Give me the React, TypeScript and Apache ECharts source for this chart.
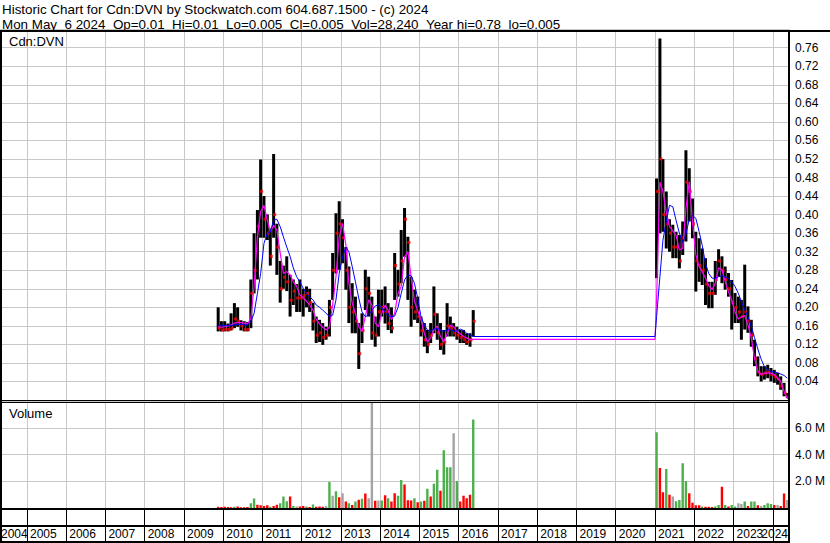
import React, { useEffect, useRef } from "react";
import * as echarts from "echarts";

const FONT = "'Liberation Sans', Arial, Helvetica, sans-serif";

// ---------- data (monthly) ----------
const seg1Start = [2009, 11];
const seg2Start = [2021, 1];

const high1 = [
  0.20, 0.17,
  0.17, 0.165, 0.187, 0.209, 0.20, 0.172, 0.17, 0.168, 0.26, 0.36, 0.41, 0.519,
  0.44, 0.40, 0.37, 0.531, 0.38, 0.30, 0.29, 0.31, 0.27, 0.26, 0.25, 0.26,
  0.24, 0.245, 0.24, 0.21, 0.18, 0.173, 0.166, 0.158, 0.216, 0.317, 0.403, 0.429,
  0.39, 0.33, 0.288, 0.252, 0.223, 0.166, 0.187, 0.281, 0.266, 0.223, 0.18, 0.238,
  0.238, 0.245, 0.209, 0.20, 0.317, 0.281, 0.367, 0.414, 0.352, 0.266, 0.238, 0.223,
  0.18, 0.166, 0.151, 0.166, 0.245, 0.187, 0.166, 0.151, 0.209, 0.18, 0.166, 0.158,
  0.151, 0.151, 0.144, 0.144, 0.194,
];
const low1 = [
  0.148, 0.148,
  0.148, 0.148, 0.15, 0.155, 0.158, 0.15, 0.148, 0.148, 0.155, 0.23, 0.26, 0.35,
  0.35, 0.345, 0.29, 0.35, 0.27, 0.21, 0.24, 0.235, 0.18, 0.205, 0.19, 0.19,
  0.18, 0.20, 0.19, 0.15, 0.123, 0.125, 0.119, 0.13, 0.137, 0.216, 0.273, 0.281,
  0.295, 0.238, 0.166, 0.144, 0.144, 0.067, 0.123, 0.194, 0.18, 0.13, 0.115, 0.137,
  0.18, 0.165, 0.151, 0.144, 0.216, 0.223, 0.252, 0.309, 0.216, 0.158, 0.173, 0.166,
  0.137, 0.115, 0.101, 0.123, 0.144, 0.13, 0.108, 0.098, 0.137, 0.137, 0.137, 0.13,
  0.123, 0.123, 0.119, 0.115, 0.137,
];
const close1 = [
  0.155, 0.151,
  0.152, 0.152, 0.155, 0.175, 0.17, 0.16, 0.152, 0.152, 0.23, 0.28, 0.375, 0.45,
  0.39, 0.36, 0.31, 0.40, 0.33, 0.24, 0.265, 0.255, 0.215, 0.235, 0.22, 0.22,
  0.225, 0.23, 0.21, 0.17, 0.14, 0.145, 0.135, 0.14, 0.20, 0.28, 0.36, 0.38,
  0.35, 0.28, 0.20, 0.19, 0.17, 0.10, 0.15, 0.24, 0.23, 0.145, 0.14, 0.19,
  0.20, 0.19, 0.165, 0.155, 0.29, 0.25, 0.30, 0.39, 0.34, 0.20, 0.19, 0.18,
  0.15, 0.13, 0.12, 0.14, 0.185, 0.145, 0.12, 0.125, 0.16, 0.155, 0.145, 0.14,
  0.135, 0.13, 0.125, 0.13, 0.17,
];
const maShort1 = [
  0.158, 0.157,
  0.158, 0.16, 0.162, 0.166, 0.167, 0.167, 0.166, 0.164, 0.176, 0.245, 0.352, 0.406,
  0.42, 0.388, 0.363, 0.377, 0.367, 0.317, 0.273, 0.277, 0.27, 0.255, 0.245, 0.227,
  0.22, 0.213, 0.205, 0.194, 0.174, 0.164, 0.157, 0.151, 0.157, 0.205, 0.266, 0.352,
  0.381, 0.334, 0.252, 0.209, 0.187, 0.158, 0.148, 0.18, 0.216, 0.205, 0.166, 0.158,
  0.187, 0.205, 0.194, 0.173, 0.187, 0.23, 0.245, 0.309, 0.32, 0.266, 0.213, 0.193,
  0.173, 0.144, 0.125, 0.134, 0.151, 0.16, 0.137, 0.126, 0.143, 0.161, 0.158, 0.148,
  0.143, 0.137, 0.134, 0.13, 0.131,
];
const maLong1 = [
  0.162, 0.161,
  0.161, 0.161, 0.161, 0.162, 0.163, 0.163, 0.162, 0.162, 0.169, 0.187, 0.23, 0.273,
  0.338, 0.36, 0.363, 0.388, 0.39, 0.374, 0.352, 0.33, 0.31, 0.285, 0.266, 0.255,
  0.241, 0.23, 0.223, 0.216, 0.205, 0.20, 0.194, 0.187, 0.18, 0.183, 0.216, 0.273,
  0.309, 0.33, 0.32, 0.288, 0.255, 0.22, 0.19, 0.18, 0.183, 0.194, 0.203, 0.205,
  0.20, 0.19, 0.182, 0.179, 0.181, 0.20, 0.23, 0.259, 0.27, 0.268, 0.252, 0.22,
  0.18, 0.162, 0.151, 0.149, 0.153, 0.154, 0.151, 0.148, 0.151, 0.153, 0.148, 0.149,
  0.153, 0.15, 0.144, 0.14, 0.137,
];
const volume1 = [
  0.1, 0.08,
  0.1, 0.08, 0.06, 0.1, 0.12, 0.06, 0.05, 0.08, 0.36, 0.72, 0.25, 0.2,
  0.15, 0.2, 0.1, 0.15, 0.25, 0.36, 0.87, 0.5, 0.87, 0.15, 0.12, 0.12,
  0.15, 0.12, 0.08, 0.26, 0.1, 0.12, 0.1, 0.15, 1.95, 0.92, 1.26, 0.8,
  1.1, 0.49, 0.36, 0.23, 0.49, 0.62, 0.69, 1.08, 0.74, 7.87, 0.54, 0.56,
  0.56, 0.95, 0.74, 0.49, 1.1, 0.92, 2.1, 1.77, 0.59, 0.56, 0.74, 0.44,
  0.49, 0.54, 1.44, 0.87, 1.82, 2.87, 1.3, 4.33, 3.05, 3.05, 5.6, 2.03,
  0.49, 0.92, 0.74, 1.0, 6.64,
];
const volDir1 = [
  "r", "r",
  "r", "r", "r", "g", "r", "r", "r", "r", "g", "g", "r", "r",
  "r", "r", "g", "r", "r", "g", "g", "g", "r", "g", "n", "r",
  "r", "g", "r", "g", "r", "r", "r", "n", "g", "n", "g", "r",
  "n", "r", "g", "r", "g", "r", "g", "r", "n", "n", "r", "n",
  "g", "r", "g", "r", "r", "g", "g", "r", "r", "r", "g", "r",
  "g", "r", "g", "r", "g", "g", "r", "g", "g", "g", "n", "g",
  "r", "r", "r", "r", "g",
];

const high2 = [
  0.478, 0.78, 0.52, 0.45, 0.39, 0.378, 0.363, 0.356, 0.385, 0.539, 0.50, 0.435,
  0.363, 0.349, 0.327, 0.306, 0.255, 0.255, 0.30, 0.325, 0.31, 0.288, 0.274, 0.259,
  0.231, 0.223, 0.216, 0.292, 0.202, 0.173, 0.13, 0.094, 0.073, 0.073, 0.076, 0.069,
  0.065, 0.058, 0.051, 0.037, 0.015,
];
const low2 = [
  0.263, 0.36, 0.363, 0.327, 0.32, 0.306, 0.306, 0.284, 0.313, 0.342, 0.385, 0.349,
  0.234, 0.255, 0.248, 0.205, 0.198, 0.198, 0.227, 0.266, 0.252, 0.238, 0.223, 0.152,
  0.166, 0.166, 0.13, 0.152, 0.145, 0.115, 0.073, 0.051, 0.04, 0.044, 0.047, 0.04,
  0.037, 0.033, 0.022, 0.008, 0.005,
];
const close2 = [
  0.45, 0.52, 0.40, 0.38, 0.36, 0.33, 0.33, 0.30, 0.35, 0.47, 0.45, 0.38,
  0.30, 0.29, 0.28, 0.25, 0.23, 0.23, 0.26, 0.30, 0.28, 0.26, 0.24, 0.21,
  0.20, 0.19, 0.18, 0.19, 0.17, 0.14, 0.09, 0.06, 0.055, 0.058, 0.062, 0.055,
  0.05, 0.045, 0.03, 0.015, 0.005,
];
const maShort2 = [
  0.22, 0.47, 0.45, 0.406, 0.374, 0.365, 0.355, 0.324, 0.327, 0.413, 0.471, 0.385,
  0.313, 0.288, 0.277, 0.263, 0.247, 0.238, 0.252, 0.285, 0.281, 0.256, 0.233, 0.216,
  0.189, 0.175, 0.179, 0.182, 0.162, 0.134, 0.09, 0.062, 0.055, 0.058, 0.058, 0.058,
  0.055, 0.047, 0.04, 0.019, 0.004,
];
const maLong2 = [
  0.18, 0.266, 0.345, 0.385, 0.42, 0.417, 0.388, 0.36, 0.34, 0.358, 0.39, 0.398,
  0.392, 0.363, 0.334, 0.295, 0.273, 0.263, 0.262, 0.266, 0.268, 0.266, 0.262, 0.255,
  0.245, 0.23, 0.212, 0.195, 0.18, 0.16, 0.135, 0.11, 0.088, 0.072, 0.065, 0.062,
  0.06, 0.059, 0.056, 0.053, 0.047,
];
const volume2 = [
  5.69, 3.0, 1.18, 2.92, 0.99, 0.87, 0.5, 0.6, 3.36, 2.02, 1.1, 0.4,
  0.2, 0.2, 0.12, 0.1, 0.1, 0.08, 0.12, 0.23, 1.6, 0.23, 0.12, 0.23,
  0.12, 0.35, 0.3, 0.48, 0.15, 0.48, 0.48, 0.2, 0.15, 0.23, 0.35, 0.3,
  0.23, 0.23, 0.15, 1.09, 0.6,
];
const volDir2 = [
  "g", "r", "r", "g", "r", "n", "g", "g", "g", "g", "r", "r",
  "r", "r", "g", "r", "r", "r", "g", "g", "r", "g", "r", "g",
  "g", "n", "n", "g", "r", "g", "g", "r", "n", "g", "g", "g",
  "r", "n", "r", "r", "n",
];

const yearLabels = ["2004", "2024"];
const priceTicks = { min: 0, max: 0.8, step: 0.04 };
const volumeTicks = { min: 0, max: 8e6, step: 2e6 };

const NB = "\u00a0";
const titleLine1 = "Historic Chart for Cdn:DVN by Stockwatch.com 604.687.1500 - (c) 2024";
const titleLine2 = [
  "Mon May" + NB + NB + "6 2024",
  "Op=0.01",
  "Hi=0.01",
  "Lo=0.005",
  "Cl=0.005",
  "Vol=28,240",
  "Year hi=0.78",
  "lo=0.005",
].join(NB + NB);

// ---------- helpers ----------
const DAY = 86400000;
const YEAR = 365 * DAY;

function monthDates(start: number[], n: number): number[] {
  const out: number[] = [];
  for (let i = 0; i < n; i++) {
    const k = start[1] - 1 + i;
    out.push(new Date(start[0] + Math.floor(k / 12), k % 12, 15).getTime());
  }
  return out;
}

const VOL_COLORS: Record<string, string> = { g: "#4DB04D", r: "#FF0000", n: "#A4A4A4" };
const DIR_INDEX: Record<string, number> = { g: 0, r: 1, n: 2 };
const DIR_COLORS = [VOL_COLORS.g, VOL_COLORS.r, VOL_COLORS.n];

export default function App() {
  const ref = useRef<HTMLDivElement>(null);

  useEffect(() => {
    if (!ref.current) return;
    const chart = echarts.init(ref.current, null, { renderer: "svg" });

    const d1 = monthDates(seg1Start, high1.length);
    const d2 = monthDates(seg2Start, high2.length);
    const gapEnd = new Date(seg2Start[0], seg2Start[1] - 1, 1).getTime();

    const bars = [
      ...d1.map((t, i) => [t, low1[i], high1[i]]),
      ...d2.map((t, i) => [t, low2[i], high2[i]]),
    ];
    const closes = [
      ...d1.map((t, i) => [t, close1[i]]),
      ...d2.map((t, i) => [t, close2[i]]),
    ];
    const maS = [
      ...d1.map((t, i) => [t, maShort1[i]]),
      [gapEnd, maShort1[maShort1.length - 1]],
      ...d2.map((t, i) => [t, maShort2[i]]),
    ];
    const maL = [
      ...d1.map((t, i) => [t, maLong1[i]]),
      [gapEnd, maLong1[maLong1.length - 1]],
      ...d2.map((t, i) => [t, maLong2[i]]),
    ];
    const vols = [
      ...d1.map((t, i) => [t, volume1[i] * 1e6, DIR_INDEX[volDir1[i]]]),
      ...d2.map((t, i) => [t, volume2[i] * 1e6, DIR_INDEX[volDir2[i]]]),
    ];

    const xMin = new Date(2004, 3, 25).getTime();
    const xMax = new Date(2024, 4, 31).getTime();

    const timeAxis = (gridIndex: number, splitColor: string, labels: boolean) => ({
      type: "time",
      gridIndex,
      min: xMin,
      max: xMax,
      splitNumber: 20,
      minInterval: YEAR,
      maxInterval: YEAR,
      axisLine: { show: false },
      axisTick: { show: false },
      splitLine: { show: true, lineStyle: { color: splitColor, width: 1 } },
      axisLabel: labels
        ? {
            show: true,
            inside: true,
            margin: 8,
            verticalAlign: "middle",
            align: "left",
            padding: [0, 0, 0, 3],
            fontSize: 12,
            fontFamily: FONT,
            color: "#000",
            hideOverlap: false,
            formatter: (v: number) => {
              const d = new Date(v);
              const y = d.getFullYear();
              if (d.getMonth() === 0 && d.getDate() === 1 && y > 2004 && y < 2024) return String(y);
              return "";
            },
          }
        : { show: false },
    });

    const onStep = (v: number, step: number) => Math.abs(v / step - Math.round(v / step)) < 1e-6;

    const textStyle = (text: string, size: number, extra: any = {}) => ({
      text,
      fontSize: size,
      fontFamily: FONT,
      fill: "#000",
      lineHeight: 12,
      verticalAlign: "middle",
      textVerticalAlign: "middle",
      ...extra,
    });

    const option: any = {
      animation: false,
      grid: [
        { left: 0, top: 29.2, width: 789, height: 370.8 },
        { left: 0, top: 401.33, width: 789, height: 106.67 },
        { left: 0, top: 510, width: 789, height: 32 },
      ],
      xAxis: [timeAxis(0, "#C8C8C8", false), timeAxis(1, "#C8C8C8", false), timeAxis(2, "#000000", true)],
      yAxis: [
        {
          type: "value",
          gridIndex: 0,
          position: "right",
          min: priceTicks.min,
          max: priceTicks.max,
          interval: priceTicks.step,
          axisLine: { show: false },
          axisTick: { show: false },
          splitLine: { show: true, lineStyle: { color: "#C8C8C8", width: 1 } },
          axisLabel: {
            margin: 6,
            fontSize: 12,
            fontFamily: FONT,
            color: "#000",
            formatter: (v: number) => (v > 0.001 && v < 0.77 && onStep(v, priceTicks.step) ? v.toFixed(2) : ""),
          },
        },
        {
          type: "value",
          gridIndex: 1,
          position: "right",
          min: volumeTicks.min,
          max: volumeTicks.max,
          interval: volumeTicks.step,
          axisLine: { show: false },
          axisTick: { show: false },
          splitLine: { show: true, lineStyle: { color: "#C8C8C8", width: 1 } },
          axisLabel: {
            margin: 6,
            fontSize: 12,
            fontFamily: FONT,
            color: "#000",
            formatter: (v: number) => (v > 1 && v < 7e6 && onStep(v, volumeTicks.step) ? (v / 1e6).toFixed(1) + " M" : ""),
          },
        },
        { type: "value", gridIndex: 2, show: false, min: 0, max: 1 },
      ],
      series: [
        {
          type: "custom",
          name: "Range",
          xAxisIndex: 0,
          yAxisIndex: 0,
          clip: true,
          silent: true,
          z: 2,
          encode: { x: 0, y: [1, 2] },
          data: bars,
          renderItem: (params: any, api: any) => {
            const t = api.value(0);
            const top = api.coord([t, api.value(2)]);
            const bot = api.coord([t, api.value(1)]);
            const w = 3;
            return {
              type: "rect",
              shape: { x: top[0] - w / 2, y: top[1], width: w, height: Math.max(1, bot[1] - top[1]) },
              style: { fill: "#000" },
            };
          },
        },
        {
          type: "scatter",
          name: "Close",
          xAxisIndex: 0,
          yAxisIndex: 0,
          silent: true,
          z: 3,
          symbol: "rect",
          symbolSize: [3, 3],
          symbolOffset: [1, 0],
          itemStyle: { color: "#FF0000" },
          data: closes,
        },
        {
          type: "line",
          name: "MA short",
          xAxisIndex: 0,
          yAxisIndex: 0,
          silent: true,
          z: 4,
          symbol: "none",
          showSymbol: false,
          lineStyle: { color: "#FF00FF", width: 1.2 },
          data: maS,
        },
        {
          type: "line",
          name: "MA long",
          xAxisIndex: 0,
          yAxisIndex: 0,
          silent: true,
          z: 5,
          symbol: "none",
          showSymbol: false,
          lineStyle: { color: "#0000FF", width: 1 },
          data: maL,
        },
        {
          type: "custom",
          name: "Volume",
          xAxisIndex: 1,
          yAxisIndex: 1,
          clip: true,
          silent: true,
          encode: { x: 0, y: 1 },
          data: vols,
          renderItem: (params: any, api: any) => {
            const t = api.value(0);
            const top = api.coord([t, api.value(1)]);
            const bot = api.coord([t, 0]);
            const w = 2.4;
            return {
              type: "rect",
              shape: { x: top[0] - w / 2, y: top[1], width: w, height: Math.max(1, bot[1] - top[1]) },
              style: { fill: DIR_COLORS[api.value(2)] },
            };
          },
        },
      ],
      graphic: [
        { type: "text", x: 2, y: 9, z: 100, silent: true, style: textStyle(titleLine1, 13.4) },
        { type: "text", x: 2, y: 24.6, z: 100, silent: true, style: textStyle(titleLine2, 13.4) },
        { type: "text", x: 9, y: 41.7, z: 100, silent: true, style: textStyle("Cdn:DVN", 13) },
        { type: "text", x: 9, y: 413, z: 100, silent: true, style: textStyle("Volume", 13) },
        { type: "text", x: 1, y: 534, z: 100, silent: true, style: textStyle(yearLabels[0], 12) },
        {
          type: "text",
          x: 788,
          y: 534,
          z: 100,
          silent: true,
          style: textStyle(yearLabels[1], 12, { align: "right", textAlign: "right" }),
        },
        // frame lines
        { type: "line", z: 100, silent: true, shape: { x1: 0, y1: 31, x2: 830, y2: 31 }, style: { stroke: "#000", lineWidth: 2 } },
        { type: "line", z: 100, silent: true, shape: { x1: 1, y1: 30, x2: 1, y2: 543 }, style: { stroke: "#000", lineWidth: 2 } },
        { type: "line", z: 100, silent: true, shape: { x1: 789, y1: 30, x2: 789, y2: 543 }, style: { stroke: "#000", lineWidth: 2 } },
        { type: "line", z: 100, silent: true, shape: { x1: 0, y1: 400.5, x2: 789, y2: 400.5 }, style: { stroke: "#000", lineWidth: 1 } },
        { type: "line", z: 100, silent: true, shape: { x1: 0, y1: 402.5, x2: 789, y2: 402.5 }, style: { stroke: "#000", lineWidth: 1 } },
        { type: "line", z: 100, silent: true, shape: { x1: 0, y1: 509, x2: 789, y2: 509 }, style: { stroke: "#000", lineWidth: 2 } },
        { type: "line", z: 100, silent: true, shape: { x1: 0, y1: 526, x2: 789, y2: 526 }, style: { stroke: "#000", lineWidth: 2 } },
        { type: "line", z: 100, silent: true, shape: { x1: 0, y1: 542, x2: 789, y2: 542 }, style: { stroke: "#000", lineWidth: 2 } },
      ],
    };

    chart.setOption(option);
    return () => chart.dispose();
  }, []);

  return <div ref={ref} style={{ position: "absolute", left: 0, top: 0, width: 830, height: 543 }} />;
}
